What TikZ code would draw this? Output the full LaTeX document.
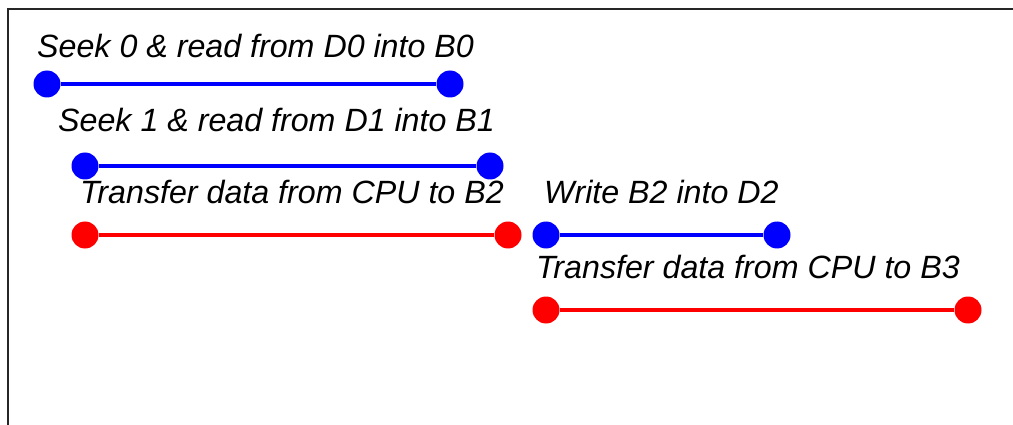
\documentclass[tikz,border=0pt]{standalone}
\usepackage{fontspec}
\setmainfont{Liberation Sans}
\begin{document}
\begin{tikzpicture}[x=1pt,y=-1pt,
  dotb/.style={circle,fill=blue,inner sep=0pt,minimum size=27pt},
  dotr/.style={circle,fill=red,inner sep=0pt,minimum size=27pt},
  barb/.style={blue,line width=4pt},
  barr/.style={red,line width=4pt},
  lbl/.style={inner sep=0pt,anchor=base west,font=\fontsize{32.2}{36}\selectfont\itshape}]
\useasboundingbox (0,0) rectangle (1013,425);
\draw[line width=2.2pt,black!85] (8,430) -- (8,9) -- (1020,9);
\node[lbl] (t1) at (37,58) {Seek 0 \& read from D0 into B0};
\node[lbl] (t2) at (58,132) {Seek 1 \& read from D1 into B1};
\node[lbl] (t3) at (80,204) {Transfer data from CPU to B2};
\node[lbl] (t4) at (544,204) {Write B2 into D2};
\node[lbl] (t5) at (536,278) {Transfer data from CPU to B3};
\node[dotb] (a1) at (47,84) {};
\node[dotb] (a2) at (450,84) {};
\node[dotb] (b1) at (85,166) {};
\node[dotb] (b2) at (490,166) {};
\node[dotr] (c1) at (85,235) {};
\node[dotr] (c2) at (508,235) {};
\node[dotb] (d1) at (546,235) {};
\node[dotb] (d2) at (777,235) {};
\node[dotr] (e1) at (546,310) {};
\node[dotr] (e2) at (968,310) {};
\draw[barb] (a1) -- (a2);
\draw[barb] (b1) -- (b2);
\draw[barr] (c1) -- (c2);
\draw[barb] (d1) -- (d2);
\draw[barr] (e1) -- (e2);
\end{tikzpicture}
\end{document}
